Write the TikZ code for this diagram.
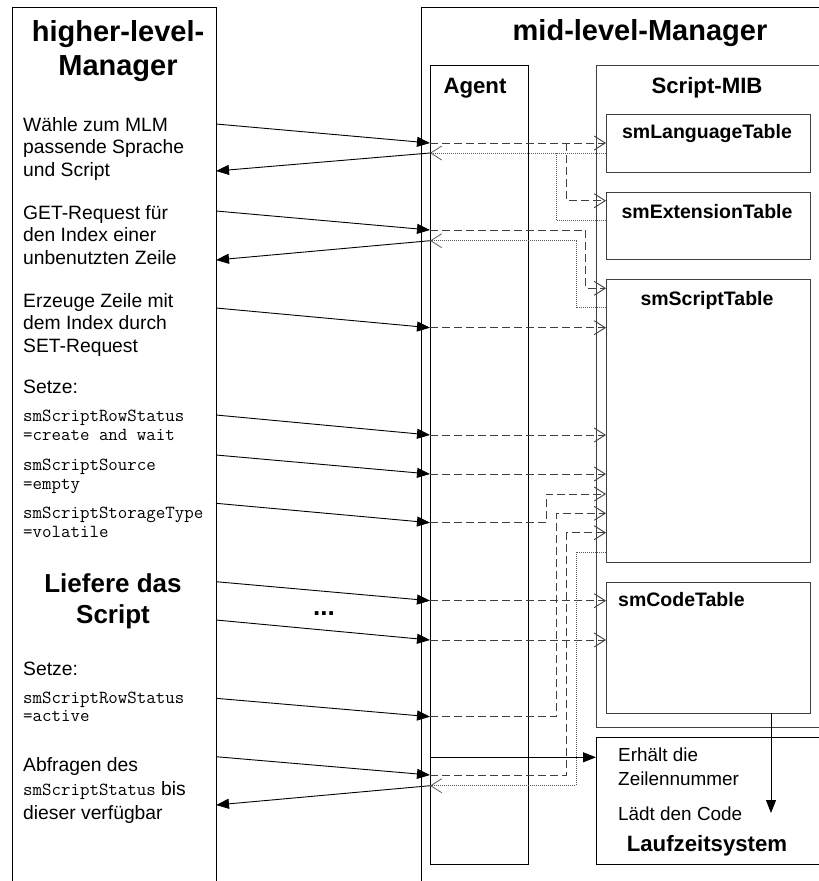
\documentclass[tikz,border=0pt]{standalone}
\usepackage{fontspec}
\setmainfont{Liberation Sans}
\usetikzlibrary{arrows.meta}

\begin{document}
\begin{tikzpicture}[x=1pt,y=-1pt,
  box/.style={draw, line width=0.9pt, inner sep=0pt, outer sep=0pt, anchor=north west},
  tbox/.style={box, draw=black!75},
  req/.style={line width=0.9pt, -{Triangle[length=13pt,width=10pt]}},
  call/.style={draw=black!75, line width=0.9pt, dash pattern=on 8pt off 4pt,
    -{Straight Barb[length=11pt,width=14pt]}},
  reply/.style={draw=black!65, line width=0.8pt, dash pattern=on 1pt off 1pt,
    -{Straight Barb[length=11pt,width=14pt]}},
  replyline/.style={draw=black!65, line width=0.8pt, dash pattern=on 1pt off 1pt},
  txt/.style={inner sep=0pt, anchor=base west, align=left,
    font=\fontsize{19.3}{22.5}\selectfont},
  mono/.style={inner sep=0pt, anchor=base west, align=left,
    font=\fontsize{18.4}{18.7}\selectfont\ttfamily},
  bigtitle/.style={inner sep=0pt, anchor=base, align=center,
    font=\fontsize{29}{34}\selectfont\bfseries},
  title/.style={inner sep=0pt, anchor=base,
    font=\fontsize{22.2}{26}\selectfont\bfseries},
  tname/.style={inner sep=0pt, anchor=base,
    font=\fontsize{19.5}{23}\selectfont\bfseries}
]
\useasboundingbox (0,0) rectangle (819,881);
\clip (0,0) rectangle (819,881);

% --- frames ---
\node[box, minimum width=204pt, minimum height=900pt] (hlm) at (12,7) {};
\node[box, minimum width=420pt, minimum height=900pt] (mlm) at (421,7) {};
\node[box, minimum width=98pt, minimum height=799pt] (agent) at (430,65) {};
\node[tbox, minimum width=244pt, minimum height=662pt] (mib) at (596,65) {};
\node[tbox, minimum width=204pt, minimum height=58pt] (lang) at (606,114) {};
\node[tbox, minimum width=204pt, minimum height=67pt] (ext) at (606,192) {};
\node[tbox, minimum width=204pt, minimum height=283pt] (scr) at (606,279) {};
\node[tbox, minimum width=204pt, minimum height=131pt] (code) at (606,582) {};
\node[box, minimum width=244pt, minimum height=127pt] (lz) at (596,737) {};

% --- headings (multi-line nodes are placed by the baseline of their last line) ---
\node[bigtitle] (hlmT) at (118,75) {higher-level-\\Manager};
\node[bigtitle] (mlmT) at (640,40) {mid-level-Manager};
\node[title] (agentT) at (475,93) {Agent};
\node[title] (mibT) at (707,93) {Script-MIB};
\node[tname] (langT) at (707,138.3) {smLanguageTable};
\node[tname] (extT) at (707,218.3) {smExtensionTable};
\node[tname] (scrT) at (707,305) {smScriptTable};
\node[tname, anchor=base west] (codeT) at (618,606.7) {smCodeTable};
\node[txt, font=\fontsize{18.9}{24}\selectfont] (lzT1) at (618,785.7) {Erhält die\\Zeilennummer};
\node[txt, font=\fontsize{18.9}{24}\selectfont] (lzT2) at (618,820.7) {Lädt den Code};
\node[title] (lzT3) at (707,851) {Laufzeitsystem};

% --- steps of the higher-level manager ---
\node[txt] (t1) at (23,176) {Wähle zum MLM\\passende Sprache\\und Script};
\node[txt] (t2) at (23,264) {GET-Request für\\den Index einer\\unbenutzten Zeile};
\node[txt] (t3) at (23,352) {Erzeuge Zeile mit\\dem Index durch\\SET-Request};
\node[txt] (t4) at (23,393) {Setze:};
\node[mono] (m1) at (23,440) {smScriptRowStatus\\=create and wait};
\node[mono] (m2) at (23,489) {smScriptSource\\=empty};
\node[mono] (m3) at (23,537.3) {smScriptStorageType\\=volatile};
\node[bigtitle, font=\fontsize{26}{31}\selectfont\bfseries] (t5) at (113,623.3) {Liefere das\\Script};
\node[bigtitle, font=\fontsize{26}{31}\selectfont\bfseries] (dots) at (324,615) {...};
\node[txt] (t6) at (23,675) {Setze:};
\node[mono] (m4) at (23,721.7) {smScriptRowStatus\\=active};
\node[txt, font=\fontsize{19.3}{23.7}\selectfont] (t7) at (23,819.3)
  {Abfragen des\\{\fontsize{18.4}{18.7}\selectfont\ttfamily smScriptStatus} bis\\dieser verfügbar};

% --- requests from the higher-level manager to the agent ---
\draw[req] (hlm.east |- 0,124)   -- (agent.west |- 0,143);
\draw[req] (hlm.east |- 0,211)   -- (agent.west |- 0,230);
\draw[req] (hlm.east |- 0,308)   -- (agent.west |- 0,327.7);
\draw[req] (hlm.east |- 0,415)   -- (agent.west |- 0,435);
\draw[req] (hlm.east |- 0,455)   -- (agent.west |- 0,474);
\draw[req] (hlm.east |- 0,503.3) -- (agent.west |- 0,522.7);
\draw[req] (hlm.east |- 0,581.7) -- (agent.west |- 0,600.7);
\draw[req] (hlm.east |- 0,620)   -- (agent.west |- 0,640);
\draw[req] (hlm.east |- 0,698.3) -- (agent.west |- 0,716.7);
\draw[req] (hlm.east |- 0,756.7) -- (agent.west |- 0,775);

% --- answers back to the higher-level manager ---
\draw[req] (agent.west |- 0,153)   -- (hlm.east |- 0,171);
\draw[req] (agent.west |- 0,240.7) -- (hlm.east |- 0,260);
\draw[req] (agent.west |- 0,785.7) -- (hlm.east |- 0,805);

% --- agent accesses the Script-MIB tables ---
\coordinate (j1) at (566.7,143);
\draw[call] (agent.west |- 0,143) -- (lang.west |- 0,143);
\draw[call] (j1) |- (ext.west |- 0,200.7);
\draw[call] (agent.west |- 0,230) -- (585.7,230) |- (scr.west |- 0,288.3);
\draw[call] (agent.west |- 0,327.7) -- (scr.west |- 0,327.7);
\draw[call] (agent.west |- 0,435) -- (scr.west |- 0,435);
\draw[call] (agent.west |- 0,474) -- (scr.west |- 0,474);
\draw[call] (agent.west |- 0,522.7) -- (546.7,522.7) |- (scr.west |- 0,494);
\draw[call] (agent.west |- 0,600.7) -- (code.west |- 0,600.7);
\draw[call] (agent.west |- 0,640) -- (code.west |- 0,640);
\draw[call] (agent.west |- 0,716.7) -- (556.7,716.7) |- (scr.west |- 0,513.3);
\draw[call] (agent.west |- 0,775) -- (566.7,775) |- (scr.west |- 0,532.7);

% --- table contents returned to the agent ---
\coordinate (j2) at (556.7,153);
\draw[reply] (lang.west |- 0,153) -- (agent.west |- 0,153);
\draw[replyline] (ext.west |- 0,220.7) -| (j2);
\draw[reply] (scr.west |- 0,307.7) -| (576,240.7) -- (agent.west |- 0,240.7);
\draw[reply] (scr.west |- 0,552.3) -| (576,785.7) -- (agent.west |- 0,785.7);

% --- runtime system ---
\draw[req] (agent.west |- 0,757.3) -- (lz.west |- 0,757.3);
\draw[req] (code.south -| 771,0) -- (771,813);
\end{tikzpicture}
\end{document}
